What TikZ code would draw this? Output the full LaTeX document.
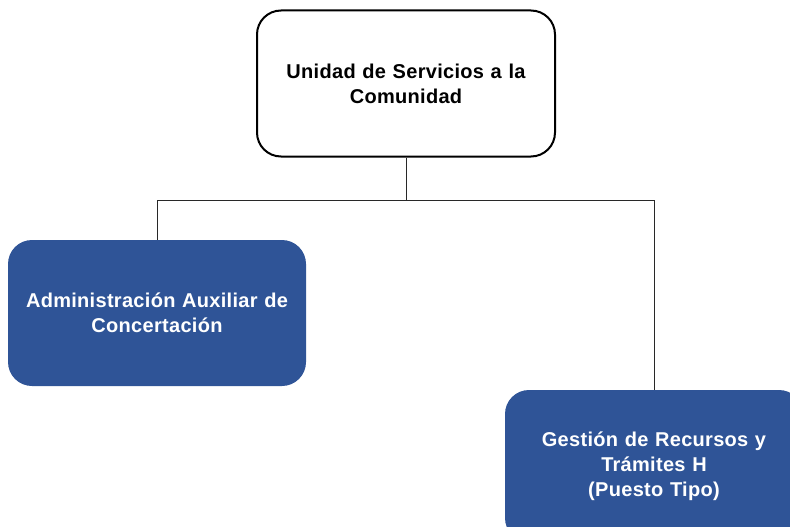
\documentclass[tikz,border=0pt]{standalone}
\usepackage{fontspec}
\setmainfont{Liberation Sans}[LetterSpace=1.5]
\definecolor{boxblue}{RGB}{47,84,151}
\definecolor{linegray}{RGB}{40,40,40}
\begin{document}
\begin{tikzpicture}[x=1pt,y=-1pt,
  orgbox/.style={rounded corners=24pt, minimum width=298pt, minimum height=146pt,
    text width=296pt, align=center, font=\fontsize{20}{25}\selectfont\bfseries, inner sep=0pt},
  topbox/.style={orgbox, draw=black, line width=2pt, fill=white, text=black},
  bluebox/.style={orgbox, fill=boxblue, text=white},
  conn/.style={draw=linegray, line width=1pt}]
\useasboundingbox (0,0) rectangle (790,527);
\node[topbox] (top) at (406,83.5) {Unidad de Servicios a la\\Comunidad};
\node[bluebox] (left) at (157,313) {Administración Auxiliar de\\Concertación};
\node[bluebox, minimum height=152pt] (right) at (654,466) {Gestión de Recursos y\\Trámites H\\(Puesto Tipo)};
\draw[conn] (top.south) -- ++(0,43) coordinate (mid) -| (left.north);
\draw[conn] (mid) -| (right.north);
\end{tikzpicture}
\end{document}
